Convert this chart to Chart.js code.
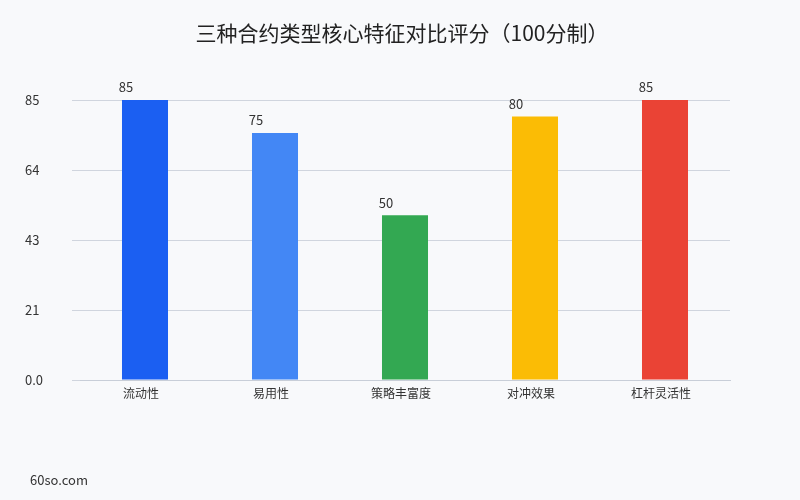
<!DOCTYPE html>
<html>
<head>
<meta charset="utf-8">
<script src="https://cdn.jsdelivr.net/npm/chart.js@4"></script>
<style>
  html, body { margin: 0; padding: 0; background: #f8f9fb; }
  #wrap { width: 800px; height: 500px; position: relative; }
</style>
</head>
<body>
<div id="wrap"><canvas id="scoreChart"></canvas></div>
<script>
// data
const categories = ['流动性', '易用性', '策略丰富度', '对冲效果', '杠杆灵活性']
const scores = [85, 75, 50, 80, 85]
const barColors = ['#1b5ff2', '#4387f5', '#33a852', '#fbbc05', '#ea4335']
const yTicks = [0, 21.25, 42.5, 63.75, 85]
const chartTitle = '三种合约类型核心特征对比评分（100分制）'

const FONT = '"Noto Sans CJK SC", "Noto Sans", sans-serif'

/*=============== TITLE, VALUE LABELS, WATERMARK ===============*/
const extras = {
  id: 'extras',
  afterDatasetsDraw(chart) {
    const ctx = chart.ctx
    const meta = chart.getDatasetMeta(0)
    ctx.save()
    ctx.font = '13px ' + FONT
    ctx.fillStyle = '#333'
    ctx.textAlign = 'center'
    ctx.textBaseline = 'bottom'
    meta.data.forEach((bar, i) => {
      ctx.fillText(scores[i], bar.x - 19, bar.y - 6)
    })
    ctx.restore()
  },
  afterDraw(chart) {
    const ctx = chart.ctx
    ctx.save()
    // title centred on the whole canvas
    ctx.font = '21px ' + FONT
    ctx.fillStyle = '#222'
    ctx.textAlign = 'center'
    ctx.textBaseline = 'middle'
    ctx.fillText(chartTitle, chart.width / 2 + 2, 33)
    // watermark
    ctx.font = '13px ' + FONT
    ctx.fillStyle = '#333'
    ctx.textAlign = 'left'
    ctx.fillText('60so.com', 30, 480)
    ctx.restore()
  }
}

new Chart(document.getElementById('scoreChart'), {
  type: 'bar',
  data: {
    labels: categories,
    datasets: [{
      data: scores,
      backgroundColor: barColors,
      borderWidth: 0,
      categoryPercentage: 1,
      barPercentage: 0.354
    }]
  },
  options: {
    responsive: true,
    maintainAspectRatio: false,
    animation: false,
    layout: { padding: { left: 25, right: 70, top: 100, bottom: 89 } },
    plugins: {
      legend: { display: false },
      tooltip: { enabled: false },
      title: { display: false }
    },
    scales: {
      x: {
        grid: { display: false, drawTicks: false },
        border: { color: '#c8ced8' },
        ticks: { color: '#333', font: { family: FONT, size: 12 }, padding: 6, labelOffset: -4 },
        afterFit: axis => { axis.height = 31 }
      },
      y: {
        min: 0,
        max: 85,
        afterBuildTicks: axis => { axis.ticks = yTicks.map(v => ({ value: v })) },
        afterFit: axis => { axis.width = 55 },
        grid: { color: '#d0d5de' },
        border: { display: false },
        ticks: {
          crossAlign: 'far',
          color: '#333',
          font: { family: FONT, size: 13 },
          callback: v => v === 0 ? '0.0' : Math.round(v)
        }
      }
    }
  },
  plugins: [extras]
})
</script>
</body>
</html>
